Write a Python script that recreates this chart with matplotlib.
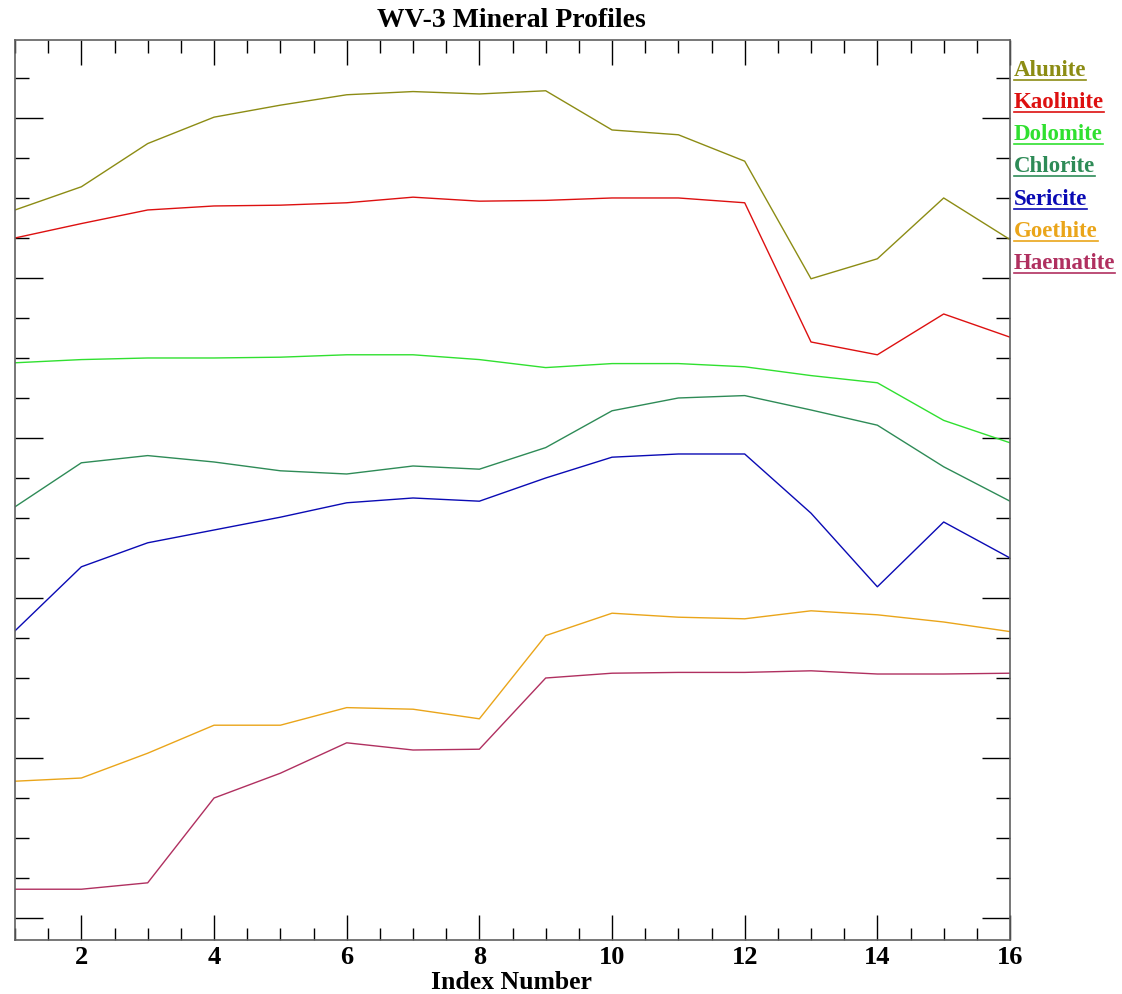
import numpy as np
import matplotlib
matplotlib.use("Agg")
import matplotlib.pyplot as plt
from matplotlib.ticker import MultipleLocator

# index positions
index = np.arange(1, 17)

# profile values (arbitrary reflectance-like units)
alunite = [0.885, 0.914, 0.968, 1.001, 1.016, 1.029, 1.033, 1.030, 1.034, 0.985, 0.979, 0.946, 0.799, 0.824, 0.900, 0.848]
kaolinite = [0.850, 0.868, 0.885, 0.890, 0.891, 0.894, 0.901, 0.896, 0.897, 0.900, 0.900, 0.894, 0.720, 0.704, 0.755, 0.726]
dolomite = [0.694, 0.698, 0.700, 0.700, 0.701, 0.704, 0.704, 0.698, 0.688, 0.693, 0.693, 0.689, 0.678, 0.669, 0.622, 0.594]
chlorite = [0.514, 0.569, 0.578, 0.570, 0.559, 0.555, 0.565, 0.561, 0.588, 0.634, 0.650, 0.653, 0.635, 0.616, 0.564, 0.521]
sericite = [0.359, 0.439, 0.469, 0.485, 0.501, 0.519, 0.525, 0.521, 0.550, 0.576, 0.580, 0.580, 0.506, 0.414, 0.495, 0.450]
goethite = [0.171, 0.175, 0.206, 0.241, 0.241, 0.263, 0.261, 0.249, 0.353, 0.381, 0.376, 0.374, 0.384, 0.379, 0.370, 0.358]
haematite = [0.036, 0.036, 0.044, 0.150, 0.181, 0.219, 0.210, 0.211, 0.300, 0.306, 0.307, 0.307, 0.309, 0.305, 0.305, 0.306]

names = ["Alunite", "Kaolinite", "Dolomite", "Chlorite", "Sericite", "Goethite", "Haematite"]
colors = ["#8c8c14", "#dd1010", "#30e030", "#2e8b57", "#0a0ab4", "#eaa51a", "#b03060"]
series = [alunite, kaolinite, dolomite, chlorite, sericite, goethite, haematite]

plt.rcParams["font.family"] = ["Liberation Serif", "DejaVu Serif"]

fig = plt.figure(figsize=(11.22, 9.94), dpi=100)
ax = fig.add_axes([0.0134, 0.0543, 0.8868, 0.9055])

for vals, c in zip(series, colors):
    ax.plot(index, vals, color=c, linewidth=1.0)

ax.set_xlim(1, 16)
ax.set_ylim(-0.0275, 1.0975)

ax.xaxis.set_major_locator(MultipleLocator(2))
ax.xaxis.set_minor_locator(MultipleLocator(0.5))
ax.yaxis.set_major_locator(MultipleLocator(0.2))
ax.yaxis.set_minor_locator(MultipleLocator(0.05))

ax.tick_params(axis="both", which="both", direction="in", top=True, right=True,
               color="black", width=1.0)
ax.tick_params(axis="x", which="major", length=18, pad=4, labelsize=19)
ax.tick_params(axis="x", which="minor", length=9)
ax.tick_params(axis="y", which="major", length=20, labelleft=False)
ax.tick_params(axis="y", which="minor", length=10)
ax.set_xticks([2, 4, 6, 8, 10, 12, 14, 16])
for lab in ax.get_xticklabels():
    lab.set_fontweight("bold")

for sp in ax.spines.values():
    sp.set_color("#606060")
    sp.set_linewidth(1.2)

# axis label placed by hand just under the tick labels
fig.text(0.4555, 0.0, "Index Number", fontsize=18.5, fontweight="bold",
         ha="center", va="bottom")
fig.text(0.4555, 0.979, "WV-3 Mineral Profiles", fontsize=20, fontweight="bold",
         ha="center", va="center")

# underlined legend on the right
renderer = fig.canvas.get_renderer()
y0 = 1 - 70 / 994
dy = 32.3 / 994
for i, (n, c) in enumerate(zip(names, colors)):
    t = fig.text(0.9037, y0 - i * dy, n, color=c, fontsize=16.5, fontweight="bold",
                 ha="left", va="center")
    bb = t.get_window_extent(renderer).transformed(fig.transFigure.inverted())
    fig.add_artist(plt.Line2D([bb.x0, bb.x1], [bb.y0 + 0.001, bb.y0 + 0.001],
                              transform=fig.transFigure, color=c, linewidth=1.2))

fig.savefig("out.png", dpi=100)
